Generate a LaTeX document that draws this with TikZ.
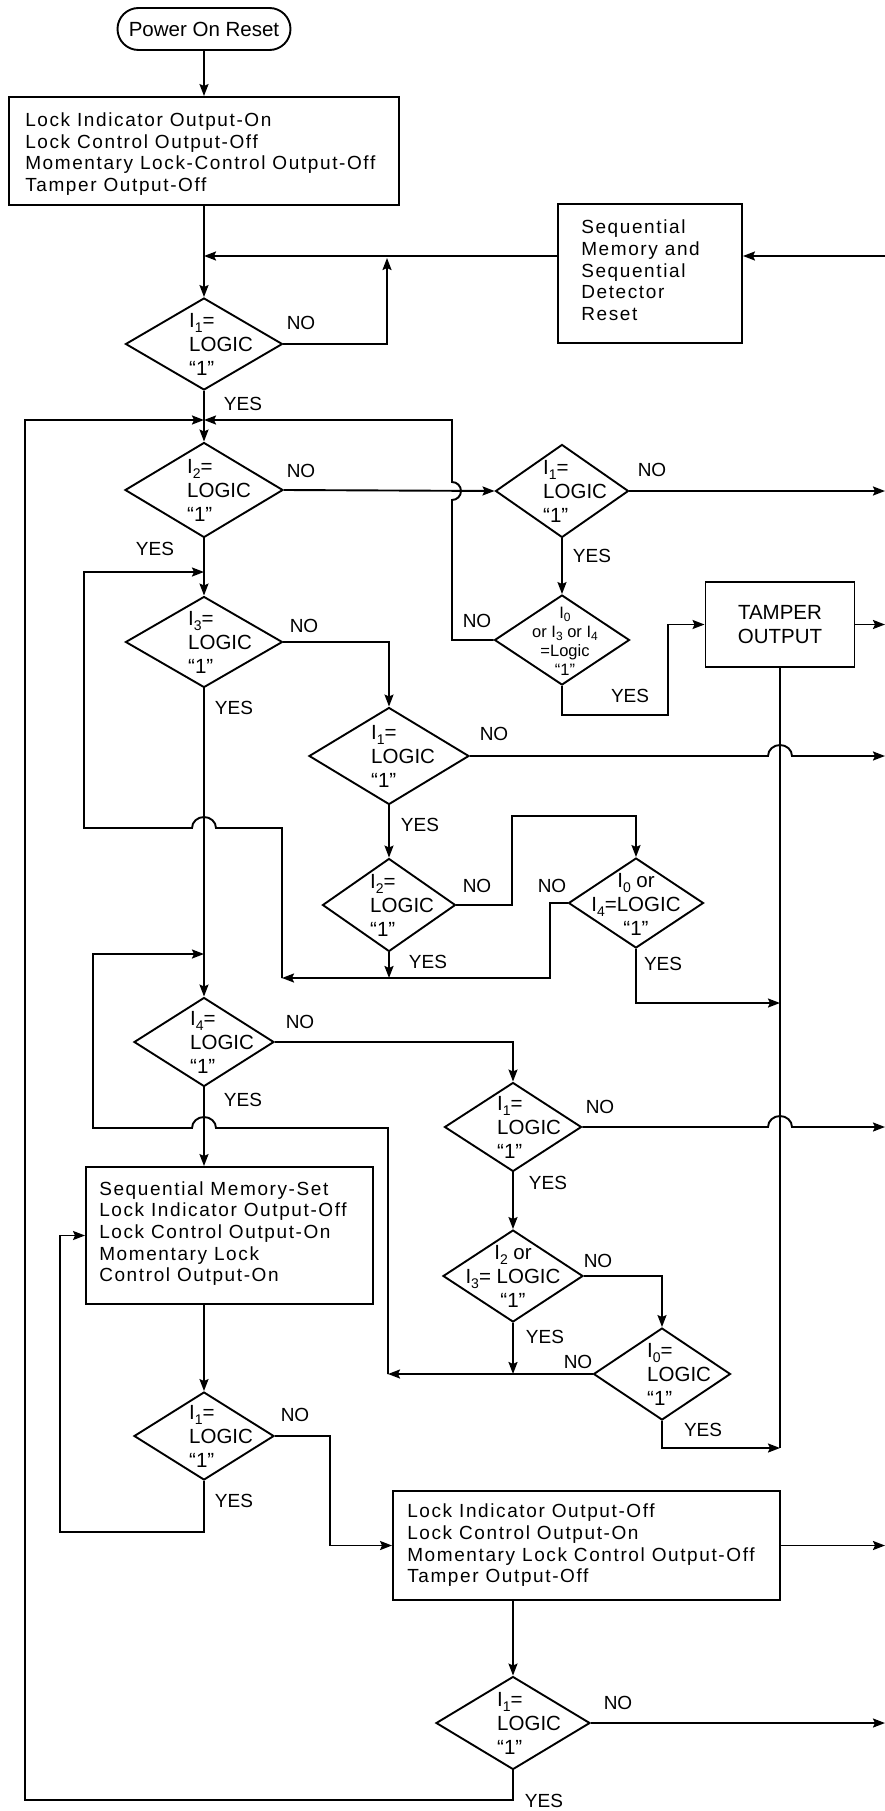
\documentclass[tikz,border=0pt]{standalone}
\usepackage{fontspec}
\setmainfont{Liberation Sans}
\newfontfamily\bfam[LetterSpace=8.5]{Liberation Sans}
\newcommand\bfont{\bfam\fontsize{19}{21.7}\selectfont}
\newcommand\dfont{\fontsize{20.5}{24}\selectfont}
\newcommand\sdfont{\fontsize{16.5}{19}\selectfont}
\newcommand\labfont{\fontsize{19}{21}\selectfont}
\newcommand\Isub[1]{I\raisebox{-0.5ex}{\fontsize{14}{14}\selectfont#1}}
\newcommand\Isubs[1]{I\raisebox{-0.35ex}{\fontsize{12}{12}\selectfont#1}}
\usetikzlibrary{arrows.meta,shapes.geometric}
\tikzset{
 ln/.style={line width=1.9pt},
 arr/.style={ln,-{Stealth[length=12pt,width=9pt,inset=2pt]}},
 box/.style={draw,line width=1.9pt,inner sep=0pt},
 dia/.style={draw,shape=diamond,line width=1.9pt,inner sep=0pt},
 lab/.style={font=\labfont,inner sep=0pt},
 dt/.style={font=\dfont,align=left,inner sep=0pt,anchor=west},
 dc/.style={font=\dfont,align=center,inner sep=0pt},
 bt/.style={font=\bfont,align=left,inner sep=0pt,anchor=west},
}
\begin{document}
\begin{tikzpicture}[x=1pt,y=-1pt]
\useasboundingbox (0,0) rectangle (885,1811);
% ---------- nodes ----------
\node[draw,line width=1.9pt,rounded corners=21pt,minimum width=173pt,minimum height=42pt,inner sep=0pt,font=\dfont] (start) at (204,29) {Power On Reset};
\node[box,minimum width=390pt,minimum height=108pt] (b1) at (204,151) {};
\node[bt] (b1t) at ([xshift=17pt,yshift=-3pt]b1.west) {Lock Indicator Output-On\\Lock Control Output-Off\\Momentary Lock-Control Output-Off\\Tamper Output-Off};
\node[box,minimum width=184pt,minimum height=139pt] (seq) at (650,273.5) {};
\node[bt] (seqt) at ([xshift=24pt,yshift=3pt]seq.west) {Sequential\\Memory and\\Sequential\\Detector\\Reset};
\node[box,minimum width=287pt,minimum height=137pt] (sms) at (229.5,1235.5) {};
\node[bt] (smst) at ([xshift=14pt,yshift=2pt]sms.west) {Sequential Memory-Set\\Lock Indicator Output-Off\\Lock Control Output-On\\Momentary Lock\\Control Output-On};
\node[box,minimum width=387pt,minimum height=109pt] (lio) at (586.5,1545.5) {};
\node[bt] (liot) at ([xshift=15pt]lio.west) {Lock Indicator Output-Off\\Lock Control Output-On\\Momentary Lock Control Output-Off\\Tamper Output-Off};
\node[box,minimum width=149pt,minimum height=85pt,font=\dfont,align=center] (tam) at (780,624.5) {TAMPER\\OUTPUT};
% diamonds
\node[dia,minimum width=157pt,minimum height=92pt] (d1) at (204,344) {};
\node[dia,minimum width=158pt,minimum height=95pt] (d2) at (204,490) {};
\node[dia,minimum width=157pt,minimum height=91pt] (d3) at (204,642) {};
\node[dia,minimum width=160pt,minimum height=97pt] (d4) at (389,756) {};
\node[dia,minimum width=133pt,minimum height=93pt] (d5) at (389,905) {};
\node[dia,minimum width=140pt,minimum height=89pt] (d6) at (204,1042) {};
\node[dia,minimum width=140pt,minimum height=88pt] (d7) at (204,1436) {};
\node[dia,minimum width=154pt,minimum height=93pt] (d8) at (513,1723) {};
\node[dia,minimum width=133pt,minimum height=93pt] (d9) at (562,491) {};
\node[dia,minimum width=135pt,minimum height=90pt] (d10) at (562,640) {};
\node[dia,minimum width=135pt,minimum height=90pt] (d11) at (636,903) {};
\node[dia,minimum width=137pt,minimum height=89pt] (d12) at (513,1127) {};
\node[dia,minimum width=140pt,minimum height=92pt] (d13) at (513,1276) {};
\node[dia,minimum width=137pt,minimum height=92pt] (d14) at (662,1374) {};
% diamond texts
\node[dt] (d1t) at ([xshift=-15pt]d1.center) {\Isub{1}=\\LOGIC\\“1”};
\node[dt] (d2t) at ([xshift=-17pt]d2.center) {\Isub{2}=\\LOGIC\\“1”};
\node[dt] (d3t) at ([xshift=-16pt]d3.center) {\Isub{3}=\\LOGIC\\“1”};
\node[dt] (d4t) at ([xshift=-18pt]d4.center) {\Isub{1}=\\LOGIC\\“1”};
\node[dt] (d5t) at ([xshift=-19pt]d5.center) {\Isub{2}=\\LOGIC\\“1”};
\node[dt] (d6t) at ([xshift=-14pt]d6.center) {\Isub{4}=\\LOGIC\\“1”};
\node[dt] (d7t) at ([xshift=-15pt]d7.center) {\Isub{1}=\\LOGIC\\“1”};
\node[dt] (d8t) at ([xshift=-16pt]d8.center) {\Isub{1}=\\LOGIC\\“1”};
\node[dt] (d9t) at ([xshift=-19pt]d9.center) {\Isub{1}=\\LOGIC\\“1”};
\node[dt] (d12t) at ([xshift=-16pt]d12.center) {\Isub{1}=\\LOGIC\\“1”};
\node[dt] (d14t) at ([xshift=-15pt]d14.center) {\Isub{0}=\\LOGIC\\“1”};
\node[dc,font=\sdfont] (d10t) at ([xshift=3pt,yshift=-1pt]d10.center) {\Isubs{0}\\or \Isubs{3} or \Isubs{4}\\=Logic\\“1”};
\node[dc] (d11t) at ([yshift=-1pt]d11.center) {\Isub{0} or\\\Isub{4}=LOGIC\\“1”};
\node[dc] (d13t) at (d13.center) {\Isub{2} or\\\Isub{3}= LOGIC\\“1”};
% labels
\node[lab] (l1n) at (301,323) {NO};
\node[lab] (l1y) at (243,404) {YES};
\node[lab] (l2n) at (301,471) {NO};
\node[lab] (l2y) at (155,549) {YES};
\node[lab] (l3n) at (304,626) {NO};
\node[lab] (l3y) at (234,708) {YES};
\node[lab] (l4n) at (494,734) {NO};
\node[lab] (l4y) at (420,825) {YES};
\node[lab] (l5n) at (477,886) {NO};
\node[lab] (l5y) at (428,962) {YES};
\node[lab] (l11n) at (552,886) {NO};
\node[lab] (l11y) at (663,964) {YES};
\node[lab] (l6n) at (300,1022) {NO};
\node[lab] (l6y) at (243,1100) {YES};
\node[lab] (l12n) at (600,1107) {NO};
\node[lab] (l12y) at (548,1183) {YES};
\node[lab] (l13n) at (598,1261) {NO};
\node[lab] (l13y) at (545,1337) {YES};
\node[lab] (l14n) at (578,1362) {NO};
\node[lab] (l14y) at (703,1430) {YES};
\node[lab] (l7n) at (295,1415) {NO};
\node[lab] (l7y) at (234,1501) {YES};
\node[lab] (l8n) at (618,1703) {NO};
\node[lab] (l8y) at (544,1801) {YES};
\node[lab] (l9n) at (652,470) {NO};
\node[lab] (l9y) at (592,556) {YES};
\node[lab] (l10n) at (477,621) {NO};
\node[lab] (l10y) at (630,696) {YES};
% junctions / free ends
\coordinate (jA) at (204,256);
\coordinate (jB) at (204,420);
\coordinate (jC) at (204,572);
\coordinate (jD) at (204,954);
\coordinate (eA) at (885,256);
\coordinate (tv1) at (780,1003);
\coordinate (tv2) at (780,1448);
% ---------- connectors ----------
\draw[arr] (start.south) -- (b1.north);
\draw[arr] (b1.south) -- (d1.north);
\draw[arr] (seq.west |- jA) -- (jA);
\draw[arr] (d1.east) -| (387,258);
\draw[arr] (eA) -- (seq.east |- eA);
\draw[arr] (d1.south) -- (d2.north);
\draw[arr] (d8.south) -- (513,1800) -- (25,1800) -- (25,420) -- (jB);
\draw[arr] (d10.west) -- (452,640) -- (452,500) arc[start angle=-90,end angle=90,radius=9pt] -- (452,420) -- (jB);
\draw[arr] (d2.east) -- (d9.west);
\draw[arr] (d9.east) -- (d9.east -| eA);
\draw[arr] (d9.south) -- (d10.north);
\draw[arr] (d10.south) |- (668,715) |- (tam.west);
\draw[arr] (tam.east) -- (tam.east -| eA);
\draw[ln] (tam.south) -- (tv2);
\draw[arr] (d2.south) -- (d3.north);
\draw[arr] (d3.east) -| (d4.north);
\draw[arr] (d3.south) -- (d6.north);
\draw[arr] (d4.east) -- (768,756) arc[start angle=180,end angle=0,x radius=12pt,y radius=11pt] -- (d4.east -| eA);
\draw[arr] (d4.south) -- (d5.north);
\draw[arr] (d5.east) -- (512,905) -- (512,816) -| (d11.north);
\draw[arr] (d5.south) -- (389,978);
\draw[arr] (d11.west) -- (550,903) -- (550,978) -- (282,978);
\draw[arr] (282,978) -- (282,828) -- (216,828) arc[start angle=0,end angle=180,x radius=12pt,y radius=11pt] -- (84,828) -- (84,572) -- (jC);
\draw[arr] (d11.south) |- (tv1);
\draw[arr] (d6.east) -| (d12.north);
\draw[arr] (d6.south) -- (sms.north -| d6.south);
\draw[arr] (d12.east) -- (768,1127) arc[start angle=180,end angle=0,x radius=12pt,y radius=11pt] -- (d12.east -| eA);
\draw[arr] (d12.south) -- (d13.north);
\draw[arr] (d13.east) -| (d14.north);
\draw[arr] (d13.south) -- (513,1374);
\draw[arr] (d14.west) -- (388,1374);
\draw[arr] (388,1374) -- (388,1128) -- (216,1128) arc[start angle=0,end angle=180,x radius=12pt,y radius=11pt] -- (93,1128) -- (93,954) -- (jD);
\draw[arr] (d14.south) |- (tv2);
\draw[arr] (d7.north |- sms.south) -- (d7.north);
\draw[arr] (d7.east) -- (330,1436) |- (lio.west);
\draw[arr] (d7.south) -- (204,1532) -- (60,1532) |- (sms.west);
\draw[arr] (lio.east) -- (lio.east -| eA);
\draw[arr] (d8.north |- lio.south) -- (d8.north);
\draw[arr] (d8.east) -- (d8.east -| eA);
\end{tikzpicture}
\end{document}
